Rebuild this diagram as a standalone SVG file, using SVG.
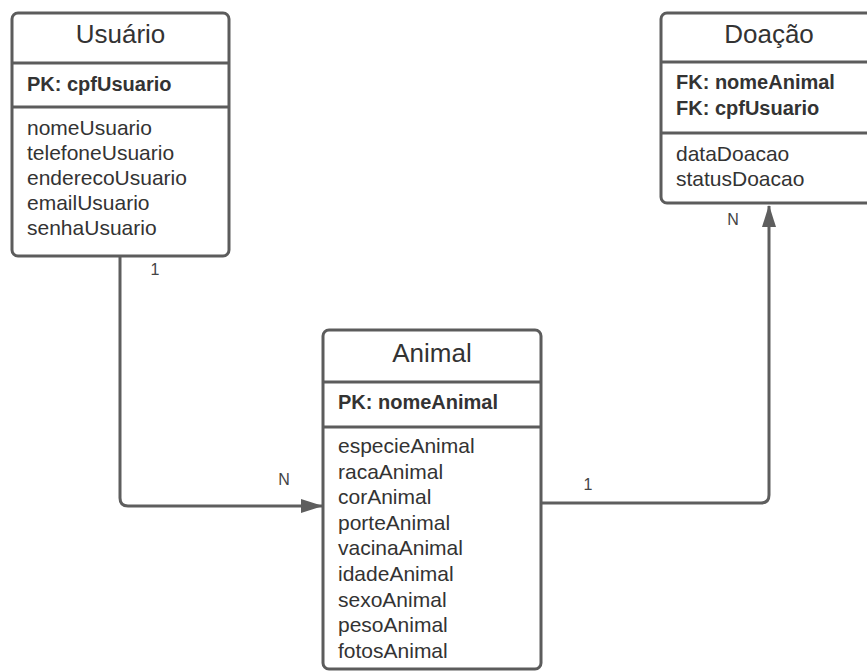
<svg xmlns="http://www.w3.org/2000/svg" width="867" height="672" viewBox="0 0 867 672">
  <style>
    .box { fill: #ffffff; stroke: #5c5c5c; stroke-width: 3; }
    .div { stroke: #5c5c5c; stroke-width: 3; fill: none; }
    .title { font-family: "Liberation Sans", Arial, sans-serif; font-size: 26px; fill: #333333; text-anchor: middle; }
    .key { font-family: "Liberation Sans", Arial, sans-serif; font-size: 20px; font-weight: bold; fill: #333333; }
    .attr { font-family: "Liberation Sans", Arial, sans-serif; font-size: 21px; fill: #333333; }
    .edge { stroke: #5e5e5e; stroke-width: 3; fill: none; }
    .card { font-family: "Liberation Sans", Arial, sans-serif; font-size: 16px; fill: #444444; text-anchor: middle; }
  </style>
  <defs>
    <marker id="arrow" viewBox="0 0 22 14" refX="21" refY="7" markerWidth="22" markerHeight="14" markerUnits="userSpaceOnUse" orient="auto">
      <path d="M0,0 L22,7 L0,14 Z" fill="#5e5e5e"/>
    </marker>
  </defs>

  <rect width="867" height="672" fill="#ffffff"/>

  <!-- connectors -->
  <g id="connectors">
    <path class="edge" d="M120,256 L120,498 Q120,506 128,506 L322,506" marker-end="url(#arrow)"/>
    <text class="card" x="155" y="275">1</text>
    <text class="card" x="284" y="485">N</text>

    <path class="edge" d="M542,503 L761,503 Q769,503 769,495 L769,206" marker-end="url(#arrow)"/>
    <text class="card" x="588" y="490">1</text>
    <text class="card" x="733" y="225">N</text>
  </g>

  <!-- Usuário entity -->
  <g id="usuario">
    <rect class="box" x="12" y="13" width="217" height="243" rx="6"/>
    <line class="div" x1="12" y1="63" x2="229" y2="63"/>
    <line class="div" x1="12" y1="107" x2="229" y2="107"/>
    <text class="title" x="120.5" y="43">Usuário</text>
    <text class="key" x="27" y="91">PK: cpfUsuario</text>
    <text class="attr" x="27" y="135">nomeUsuario</text>
    <text class="attr" x="27" y="160">telefoneUsuario</text>
    <text class="attr" x="27" y="185">enderecoUsuario</text>
    <text class="attr" x="27" y="210">emailUsuario</text>
    <text class="attr" x="27" y="235">senhaUsuario</text>
  </g>

  <!-- Doação entity -->
  <g id="doacao">
    <rect class="box" x="661" y="13" width="216" height="190" rx="6"/>
    <line class="div" x1="661" y1="62" x2="877" y2="62"/>
    <line class="div" x1="661" y1="133" x2="877" y2="133"/>
    <text class="title" x="769" y="43">Doação</text>
    <text class="key" x="676" y="89">FK: nomeAnimal</text>
    <text class="key" x="676" y="115">FK: cpfUsuario</text>
    <text class="attr" x="676" y="161">dataDoacao</text>
    <text class="attr" x="676" y="186">statusDoacao</text>
  </g>

  <!-- Animal entity -->
  <g id="animal">
    <rect class="box" x="323" y="330" width="218" height="339" rx="6"/>
    <line class="div" x1="323" y1="382" x2="541" y2="382"/>
    <line class="div" x1="323" y1="427" x2="541" y2="427"/>
    <text class="title" x="432" y="362">Animal</text>
    <text class="key" x="338" y="409">PK: nomeAnimal</text>
    <text class="attr" x="338" y="453">especieAnimal</text>
    <text class="attr" x="338" y="478.6">racaAnimal</text>
    <text class="attr" x="338" y="504.2">corAnimal</text>
    <text class="attr" x="338" y="529.8">porteAnimal</text>
    <text class="attr" x="338" y="555.4">vacinaAnimal</text>
    <text class="attr" x="338" y="581">idadeAnimal</text>
    <text class="attr" x="338" y="606.6">sexoAnimal</text>
    <text class="attr" x="338" y="632.2">pesoAnimal</text>
    <text class="attr" x="338" y="657.8">fotosAnimal</text>
  </g>
</svg>
